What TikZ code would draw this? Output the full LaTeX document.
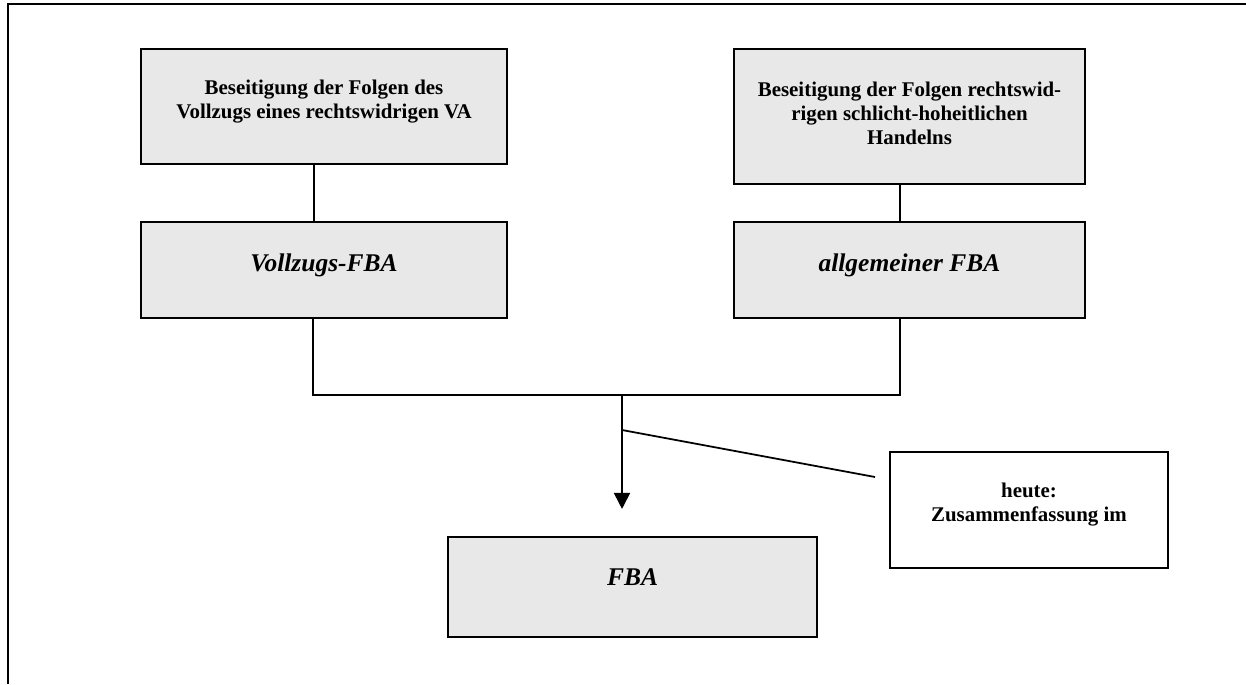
\documentclass[tikz,border=0pt]{standalone}
\usepackage{fontspec}
\setmainfont{Liberation Serif}
\usetikzlibrary{arrows.meta, positioning}
\definecolor{boxgray}{RGB}{232,232,232}

\begin{document}
\begin{tikzpicture}[x=0.02cm, y=-0.02cm,
  graybox/.style={draw, line width=1.2pt, fill=boxgray, align=center, inner sep=0pt},
  notebox/.style={draw, line width=1.2pt, fill=white, align=center, inner sep=0pt},
  headfont/.style={font=\fontsize{11.9}{13.9}\selectfont\bfseries},
  namefont/.style={font=\fontsize{14.5}{17}\selectfont\bfseries\itshape},
  link/.style={line width=1pt}]
  \useasboundingbox (0,0) rectangle (1246,684);
  % page frame, cut at right and bottom
  \draw[line width=1.2pt] (8,684) -- (8,4) -- (1246,4);

  \node[graybox, headfont, minimum width=7.32cm, minimum height=2.3cm, text depth=0.3cm] (vafolgen) at (324,106.5) {Beseitigung der Folgen des\\Vollzugs eines rechtswidrigen VA};
  \node[graybox, headfont, minimum width=7.02cm, minimum height=2.7cm, text depth=0.13cm] (handeln) at (909.5,116.5) {Beseitigung der Folgen rechtswid-\\rigen schlicht-hoheitlichen\\Handelns};
  \node[graybox, namefont, minimum width=7.32cm, minimum height=1.92cm, text depth=0.3cm] (vollzug) at (324,270) {Vollzugs-FBA};
  \node[graybox, namefont, minimum width=7.02cm, minimum height=1.92cm, text depth=0.3cm] (allg) at (909.5,270) {allgemeiner FBA};
  \node[graybox, namefont, minimum width=7.38cm, minimum height=2cm, text depth=0.38cm] (fba) at (632.5,587) {FBA};
  \node[notebox, headfont, minimum width=5.56cm, minimum height=2.32cm, text depth=0.32cm] (heute) at (1029,510) {heute:\\Zusammenfassung im};

  \coordinate (join) at (622,395);
  \coordinate (fork) at (622,430);
  \coordinate (tail) at (875,477);

  \draw[link] ([xshift=-0.2cm]vafolgen.south) -- ([xshift=-0.2cm]vollzug.north);
  \draw[link] ([xshift=-0.19cm]handeln.south) -- ([xshift=-0.19cm]allg.north);
  \draw[link] ([xshift=-0.22cm]vollzug.south) |- (join) -| ([xshift=-0.19cm]allg.south);
  \draw[link, -{Triangle[length=0.32cm, width=0.32cm]}, shorten >=0.54cm] (join) -- (join |- fba.north);
  \draw[link] (fork) -- (tail);
\end{tikzpicture}
\end{document}
